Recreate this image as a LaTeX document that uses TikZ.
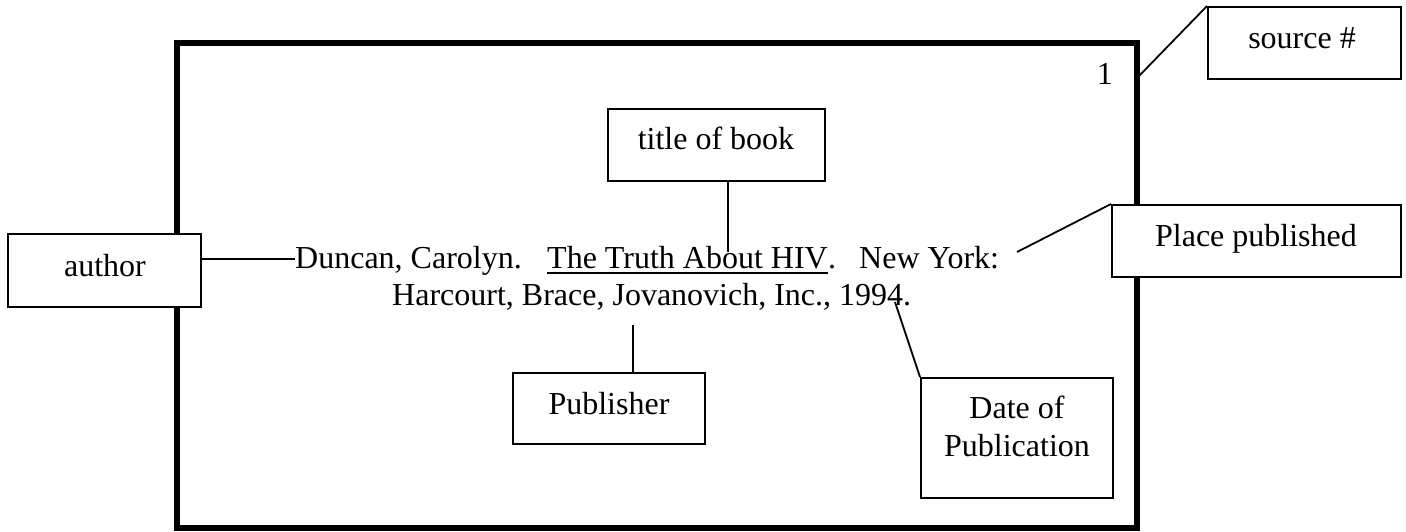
\documentclass[tikz,border=0pt]{standalone}
\usepackage{fontspec}
\setmainfont{Liberation Serif}
\begin{document}
\begin{tikzpicture}[x=1pt,y=-1pt,
  box/.style={draw,fill=white,line width=2pt,rectangle,inner sep=0pt},
  lbl/.style={font=\fontsize{32pt}{37pt}\selectfont,inner sep=0pt,anchor=base},
  txt/.style={font=\fontsize{32pt}{37pt}\selectfont,inner sep=0pt,anchor=base west},
  conn/.style={line width=1.8pt}]
\useasboundingbox (0,0) rectangle (1406,531);
% outer card frame
\draw[line width=6pt] (177,42.5) rectangle (1136.5,528);
% label boxes
\node[box,minimum width=193pt,minimum height=72pt] (src) at (1304.5,43) {};
\node[lbl] (srct) at (1302,48) {source \#};
\node[box,minimum width=193pt,minimum height=73pt] (author) at (104.5,270.5) {};
\node[lbl] (autht) at (105,276) {author};
\node[box,minimum width=217pt,minimum height=72pt] (ttl) at (716.5,145) {};
\node[lbl] (ttlt) at (716,149) {title of book};
\node[box,minimum width=289pt,minimum height=72pt] (place) at (1256.5,241) {};
\node[lbl] (placet) at (1256,246) {Place published};
\node[box,minimum width=192pt,minimum height=71pt] (pub) at (609,408.5) {};
\node[lbl] (pubt) at (609,414) {Publisher};
\node[box,minimum width=192pt,minimum height=120pt] (date) at (1017,438) {};
\node[lbl] (datet1) at (1017,418) {Date of};
\node[lbl] (datet2) at (1017,456) {Publication};
% source number
\node[lbl,anchor=base east] (num) at (1113,84) {1};
% citation
\node[txt] (c1) at (295,268) {Duncan, Carolyn.};
\node[txt] (c2) at (547,268) {The Truth About HIV};
\node[txt] (c3) at (c2.base east) {.};
\node[txt] (c4) at (859,268) {New York:};
\node[txt] (c5) at (392,305) {Harcourt, Brace, Jovanovich, Inc., 1994.};
\draw[line width=1.6pt] ([yshift=-5pt]c2.base west) -- ([yshift=-5pt]c2.base east);
% connector ends
\coordinate (send) at (1139,76);
\coordinate (aend) at (295,259);
\coordinate (tend) at (728,252);
\coordinate (pend) at (1017,252);
\coordinate (puend) at (633,325);
\coordinate (dend) at (895,302);
% connectors
\draw[conn] (src.north west) -- (send);
\draw[conn] (author.east |- aend) -- (aend);
\draw[conn] (ttl.south -| tend) -- (tend);
\draw[conn] (place.north west) -- (pend);
\draw[conn] (pub.north -| puend) -- (puend);
\draw[conn] (date.north west) -- (dend);
\end{tikzpicture}
\end{document}
